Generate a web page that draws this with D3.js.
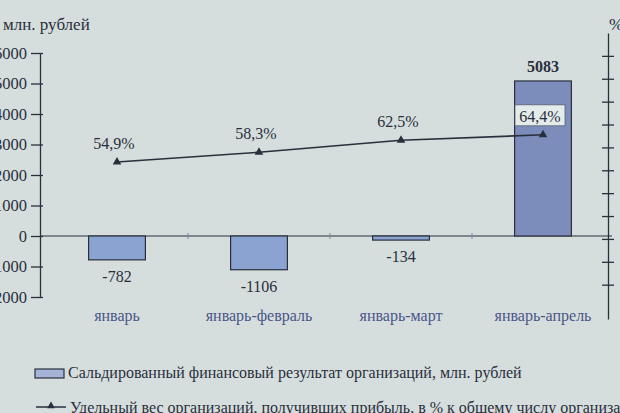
<!DOCTYPE html>
<html>
<head>
<meta charset="utf-8">
<script src="https://cdn.jsdelivr.net/npm/d3@7"></script>
<style>
  body { margin: 0; background: #d5dedd; }
  svg { display: block; }
  text { font-family: "Liberation Serif", "DejaVu Serif", serif; }
</style>
</head>
<body>
<svg id="chart" width="620" height="413"></svg>
<script>
// categories and values
const categories = ['январь', 'январь-февраль', 'январь-март', 'январь-апрель'];
const result = [-782, -1106, -134, 5083];          // млн. рублей
const share = [54.9, 58.3, 62.5, 64.4];            // %
const leftTicks = [-2000, -1000, 0, 1000, 2000, 3000, 4000, 5000, 6000];
const rightTicks = [12, 20, 28, 36, 44, 52, 60, 68, 76, 84, 92];   // labels are off the photo
const legendLabels = [
  'Сальдированный финансовый результат организаций, млн. рублей',
  'Удельный вес организаций, получивших прибыль, в % к общему числу организаций'
];

const svg = d3.select('#chart');
const ink = '#2a2f3c';

let x = d3.scaleBand()
  .domain(categories)
  .range([46, 614])
  .paddingInner(0.6)
  .paddingOuter(0.3);

let y = d3.scaleLinear().domain([-2000, 6000]).range([297, 53]);
let y2 = d3.scaleLinear().domain([0, 100]).range([319, 33]);

// zero line
svg.append('line')
  .attr('x1', 40).attr('x2', 612)
  .attr('y1', y(0)).attr('y2', y(0))
  .attr('stroke', ink).attr('stroke-width', 1.2);

// small category separators on the zero line
x.domain().slice(1).forEach(c => {
  let bx = x(c) - x.step() * x.paddingInner() / 2;
  svg.append('line')
    .attr('x1', bx).attr('x2', bx)
    .attr('y1', y(0) - 3).attr('y2', y(0) + 3)
    .attr('stroke', '#7a8aa8').attr('stroke-width', 1);
});

// left axis
let leftAxis = svg.append('g')
  .attr('transform', 'translate(40,0)')
  .call(d3.axisLeft(y).tickValues(leftTicks).tickFormat(d3.format('d'))
    .tickSize(0).tickPadding(13).tickSizeOuter(0));
leftAxis.attr('font-family', null);
leftAxis.select('.domain').attr('stroke', ink).attr('stroke-width', 1.3);
leftAxis.selectAll('.tick line').attr('x1', -9).attr('x2', 3).attr('stroke', ink).attr('stroke-width', 1.3);
leftAxis.selectAll('.tick text').attr('fill', ink).attr('font-size', 16.5);

// right axis
let rightAxis = svg.append('g')
  .attr('transform', 'translate(608,0)')
  .call(d3.axisRight(y2).tickValues(rightTicks).tickSize(0).tickFormat('').tickSizeOuter(0));
rightAxis.select('.domain').attr('stroke', ink).attr('stroke-width', 1.3);
rightAxis.selectAll('.tick line').attr('x1', -6).attr('x2', 6).attr('stroke', ink).attr('stroke-width', 1.3);

// bars
svg.selectAll('rect.bar')
  .data(result)
  .enter()
  .append('rect')
  .attr('class', 'bar')
  .attr('x', (d, i) => x(categories[i]))
  .attr('width', x.bandwidth())
  .attr('y', d => y(Math.max(0, d)))
  .attr('height', d => Math.abs(y(d) - y(0)))
  .attr('fill', d => d > 0 ? '#7c8dbb' : '#8ba3d1')
  .attr('stroke', ink)
  .attr('stroke-width', 1.2);

svg.selectAll('text.barLabel')
  .data(result)
  .enter()
  .append('text')
  .attr('class', 'barLabel')
  .attr('x', (d, i) => x(categories[i]) + x.bandwidth() / 2)
  .attr('y', d => d > 0 ? y(d) - 9 : y(d) + 22)
  .attr('text-anchor', 'middle')
  .attr('font-size', 16)
  .attr('font-weight', d => d > 0 ? 'bold' : 'normal')
  .attr('fill', ink)
  .text(d => d);

// share line
let cx = (d, i) => x(categories[i]) + x.bandwidth() / 2;
let line = d3.line()
  .x(cx)
  .y(d => y2(d));

svg.append('path')
  .datum(share)
  .attr('d', line)
  .attr('fill', 'none')
  .attr('stroke', ink)
  .attr('stroke-width', 1.6);

svg.selectAll('path.marker')
  .data(share)
  .enter()
  .append('path')
  .attr('class', 'marker')
  .attr('d', d3.symbol(d3.symbolTriangle, 32))
  .attr('transform', (d, i) => `translate(${cx(d, i)},${y2(d)})`)
  .attr('fill', ink);

let fmt = d => d.toFixed(1).replace('.', ',') + '%';
let shareLabels = svg.selectAll('g.shareLabel')
  .data(share)
  .enter()
  .append('g')
  .attr('class', 'shareLabel')
  .attr('transform', (d, i) => `translate(${cx(d, i) - 3},${y2(d) - 13})`);

shareLabels.filter((d, i) => i === share.length - 1)
  .append('rect')
  .attr('x', -25).attr('y', -17)
  .attr('width', 50).attr('height', 21)
  .attr('fill', '#e4ebeb')
  .attr('stroke', '#5a6070')
  .attr('stroke-width', 0.8);

shareLabels.append('text')
  .attr('text-anchor', 'middle')
  .attr('font-size', 16)
  .attr('fill', ink)
  .text(fmt);

// category labels
svg.selectAll('text.cat')
  .data(categories)
  .enter()
  .append('text')
  .attr('class', 'cat')
  .attr('x', d => x(d) + x.bandwidth() / 2)
  .attr('y', 321)
  .attr('text-anchor', 'middle')
  .attr('font-size', 16)
  .attr('fill', '#4a5688')
  .text(d => d);

// axis titles
svg.append('text')
  .attr('x', 3).attr('y', 30)
  .attr('font-size', 17)
  .attr('fill', ink)
  .text('млн. рублей');

svg.append('text')
  .attr('x', 609).attr('y', 30)
  .attr('font-size', 17)
  .attr('fill', ink)
  .text('%');

// legend
svg.append('rect')
  .attr('x', 35).attr('y', 369)
  .attr('width', 29).attr('height', 9)
  .attr('fill', '#a4b3d6')
  .attr('stroke', ink)
  .attr('stroke-width', 1.2);

svg.append('text')
  .attr('x', 68).attr('y', 378)
  .attr('font-size', 16)
  .attr('fill', ink)
  .text(legendLabels[0]);

svg.append('line')
  .attr('x1', 36).attr('x2', 66)
  .attr('y1', 407).attr('y2', 407)
  .attr('stroke', ink).attr('stroke-width', 1.5);

svg.append('path')
  .attr('d', d3.symbol(d3.symbolTriangle, 26))
  .attr('transform', 'translate(51,406)')
  .attr('fill', ink);

svg.append('text')
  .attr('x', 70).attr('y', 413)
  .attr('font-size', 16)
  .attr('fill', ink)
  .text(legendLabels[1]);
</script>
</body>
</html>
